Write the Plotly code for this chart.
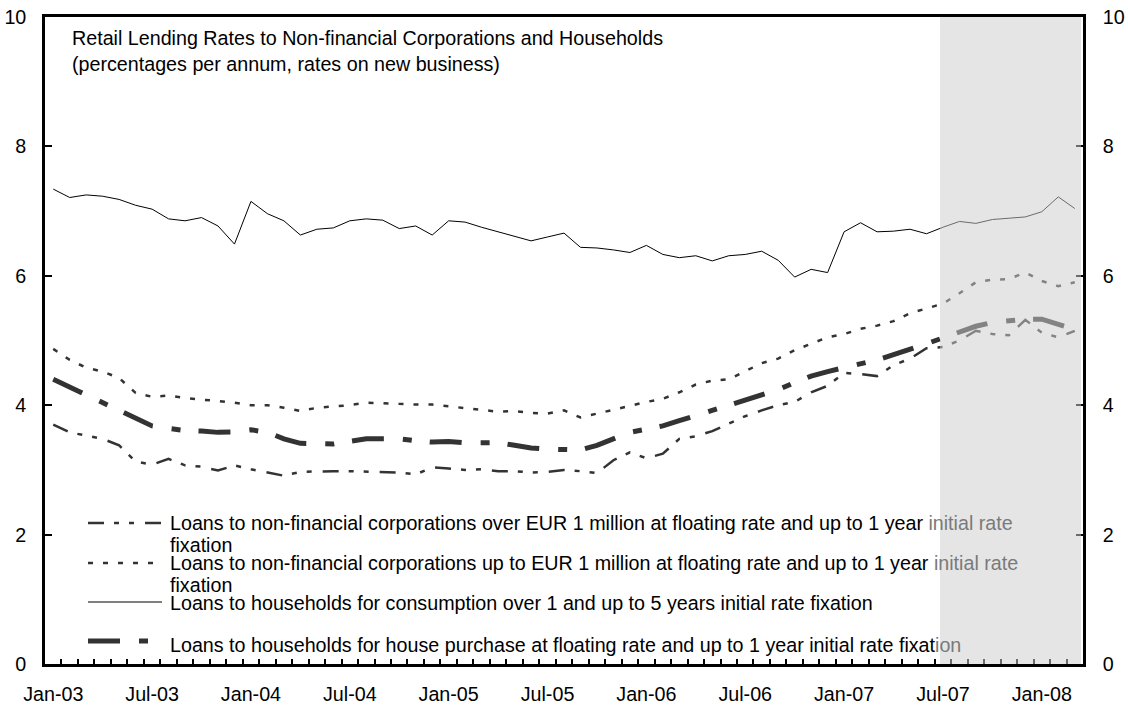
import pandas as pd
import plotly.graph_objects as go

# ---------------- data ----------------
months = list(pd.date_range("2003-01-01", periods=63, freq="MS").strftime("%b-%y"))
tick_labels = ["Jan-03", "Jul-03", "Jan-04", "Jul-04", "Jan-05", "Jul-05",
               "Jan-06", "Jul-06", "Jan-07", "Jul-07", "Jan-08"]

corp_over_1m = [3.70, 3.58, 3.53, 3.48, 3.38, 3.13, 3.08, 3.17, 3.07, 3.05, 2.99, 3.07,
                3.01, 2.96, 2.91, 2.97, 2.98, 2.98, 2.98, 2.97, 2.96, 2.96, 2.93, 3.04,
                3.02, 3.00, 3.01, 2.98, 2.98, 2.96, 2.97, 3.00, 2.98, 2.95, 3.15, 3.27,
                3.18, 3.25, 3.48, 3.52, 3.60, 3.72, 3.83, 3.92, 4.00, 4.05, 4.20, 4.30,
                4.50, 4.48, 4.45, 4.62, 4.72, 4.88, 4.90, 5.00, 5.15, 5.10, 5.08, 5.32,
                5.12, 5.05, 5.15]

corp_up_to_1m = [4.87, 4.70, 4.58, 4.52, 4.42, 4.19, 4.13, 4.15, 4.11, 4.09, 4.07, 4.04,
                 4.00, 4.00, 3.96, 3.91, 3.96, 3.98, 4.00, 4.04, 4.03, 4.01, 4.01, 4.01,
                 3.98, 3.95, 3.92, 3.90, 3.91, 3.88, 3.87, 3.92, 3.81, 3.87, 3.93, 4.00,
                 4.05, 4.10, 4.20, 4.32, 4.38, 4.40, 4.52, 4.65, 4.72, 4.85, 4.95, 5.05,
                 5.10, 5.18, 5.23, 5.30, 5.42, 5.49, 5.57, 5.73, 5.90, 5.94, 5.95, 6.05,
                 5.92, 5.84, 5.90]

hh_consumption = [7.34, 7.21, 7.25, 7.23, 7.18, 7.09, 7.03, 6.88, 6.85, 6.90, 6.77, 6.49,
                  7.15, 6.96, 6.85, 6.63, 6.72, 6.74, 6.85, 6.88, 6.86, 6.73, 6.77, 6.63,
                  6.85, 6.83, 6.75, 6.68, 6.60, 6.54, 6.60, 6.66, 6.44, 6.43, 6.40, 6.36,
                  6.47, 6.33, 6.28, 6.31, 6.23, 6.31, 6.33, 6.38, 6.24, 5.98, 6.10, 6.05,
                  6.68, 6.82, 6.68, 6.69, 6.72, 6.65, 6.75, 6.84, 6.81, 6.87, 6.89, 6.91,
                  6.99, 7.22, 7.04]

hh_house = [4.40, 4.28, 4.15, 4.02, 3.90, 3.78, 3.68, 3.64, 3.61, 3.60, 3.58, 3.59,
            3.62, 3.58, 3.48, 3.41, 3.40, 3.40, 3.44, 3.48, 3.48, 3.48, 3.45, 3.43,
            3.44, 3.42, 3.42, 3.42, 3.38, 3.34, 3.32, 3.32, 3.31, 3.38, 3.48, 3.58,
            3.63, 3.68, 3.76, 3.84, 3.92, 3.98, 4.06, 4.15, 4.24, 4.35, 4.45, 4.52,
            4.58, 4.65, 4.70, 4.78, 4.86, 4.95, 5.04, 5.14, 5.22, 5.28, 5.30, 5.33,
            5.33, 5.25, 5.17]

series_names = [
    "Loans to non-financial corporations over EUR 1 million at floating rate and up to 1 year initial rate fixation",
    "Loans to non-financial corporations up to EUR 1 million at floating rate and up to 1 year initial rate fixation",
    "Loans to households for consumption over 1 and up to 5 years initial rate fixation",
    "Loans to households for house purchase at floating rate and up to 1 year initial rate fixation",
]
title_lines = ["Retail Lending Rates to Non-financial Corporations and Households",
               "(percentages per annum, rates on new business)"]
shaded_from = "Jul-07"

# ---------------- layout constants ----------------
W, H = 1128, 709
L, R, T, B = 45, 45, 17, 45
PW, PH = W - L - R, H - T - B
FONT = "Liberation Sans, Arial, sans-serif"
FS = 19.7
DARK = "#333333"
GREY_TXT = "#7a7a7a"


def px_x(p):
    return (p - L) / PW


def px_y(p):
    return (H - B - p) / PH


x_idx = list(range(len(months)))
tick_pos = [months.index(t) for t in tick_labels]

styles = [
    dict(color=DARK, width=2.5, dash="16px,10px,5px,10px,5px,11px"),
    dict(color=DARK, width=2.5, dash="5px,10px"),
    dict(color="#000000", width=1, dash="solid"),
    dict(color=DARK, width=5, dash="32px,19px,9px,18px"),
]
series = [corp_over_1m, corp_up_to_1m, hh_consumption, hh_house]

fig = go.Figure()
for name, vals, st in zip(series_names, series, styles):
    fig.add_trace(go.Scatter(x=x_idx, y=vals, mode="lines", name=name,
                             line=st, showlegend=False, hoverinfo="skip"))

# invisible trace for right axis
fig.add_trace(go.Scatter(x=[x_idx[0]], y=[hh_consumption[0]], yaxis="y2", mode="lines",
                         showlegend=False, hoverinfo="skip", line=dict(width=0)))

axis_font = dict(family=FONT, size=FS, color="#000000")
fig.update_layout(
    template="none",
    width=W, height=H, autosize=False,
    margin=dict(l=L, r=R, t=T, b=B, pad=0),
    paper_bgcolor="white", plot_bgcolor="white",
    font=axis_font,
    showlegend=False,
    xaxis=dict(range=[-0.5, len(months) - 0.5], showgrid=False, zeroline=False,
               automargin=False,
               showline=True, linecolor="#000000", linewidth=2.5, mirror=True,
               tickmode="array", tickvals=tick_pos, ticktext=tick_labels,
               ticks="inside", ticklen=0, tickfont=axis_font, ticklabelstandoff=11,
               minor=dict(tickmode="linear", tick0=0.5, dtick=1, ticks="inside",
                          ticklen=5, tickwidth=2, tickcolor="#000000", showgrid=False)),
    yaxis=dict(range=[0, 10], dtick=2, tick0=0, showgrid=False, zeroline=False,
               automargin=False,
               showline=True, linecolor="#000000", linewidth=2.5,
               ticks="inside", ticklen=7, tickwidth=2, tickcolor="#000000",
               tickfont=axis_font, ticklabelstandoff=12),
    yaxis2=dict(range=[0, 10], dtick=2, tick0=0, overlaying="y", side="right",
                automargin=False,
                showgrid=False, zeroline=False, showline=True, linecolor="#000000",
                linewidth=2.5, ticks="inside", ticklen=7, tickwidth=2,
                tickcolor="#000000", tickfont=axis_font, ticklabelstandoff=13),
)

# shaded band (overlay)
x_shade0 = months.index(shaded_from) - 0.18
fig.add_shape(type="rect", xref="x", yref="paper", x0=x_shade0, x1=len(months) - 0.62,
              y0=0, y1=1, fillcolor="rgba(205,205,205,0.52)", line=dict(width=0),
              layer="above")

# title
for line, yc in zip(title_lines, [38, 64]):
    fig.add_annotation(text=line, xref="paper", yref="paper", x=px_x(70), y=px_y(yc),
                       xanchor="left", yanchor="middle", showarrow=False,
                       font=dict(family=FONT, size=FS, color="#000000"))

# manual legend
def split_last(n):
    w = n.split(" ")
    return " ".join(w[:-1]), w[-1]

e1a, e1b = split_last(series_names[0])
e2a, e2b = split_last(series_names[1])


def grey_tail(s, tail):
    if s.endswith(tail):
        return s[: -len(tail)] + f"<span style='color:{GREY_TXT}'>{tail}</span>"
    return s


legend_rows = [
    (grey_tail(e1a, "initial rate"), 523),
    (e1b, 545),
    (grey_tail(e2a, "initial rate"), 563),
    (e2b, 585),
    (series_names[2], 603),
    (grey_tail(series_names[3], "ion"), 645),
]
for txt, yc in legend_rows:
    fig.add_annotation(text=txt, xref="paper", yref="paper", x=px_x(168), y=px_y(yc),
                       xanchor="left", yanchor="middle", showarrow=False,
                       font=dict(family=FONT, size=FS, color="#000000"))

sample_y = [523, 563, 602, 641]
sample_x1 = [165, 162, 162, 153]
for st, yc, x1 in zip(styles, sample_y, sample_x1):
    fig.add_shape(type="line", xref="paper", yref="paper", x0=px_x(88), x1=px_x(x1),
                  y0=px_y(yc), y1=px_y(yc), line=st, layer="above")

fig.write_html("out.html", config={"displayModeBar": False},
               post_script="document.body.style.margin='0px';"
                           "document.documentElement.style.overflow='hidden';"
                           "document.body.style.overflow='hidden';")
